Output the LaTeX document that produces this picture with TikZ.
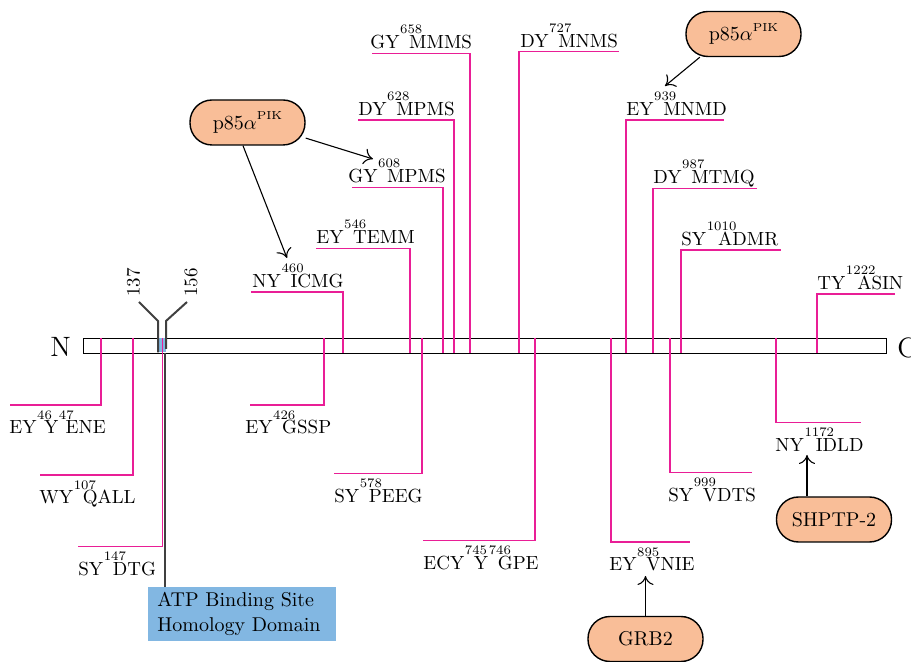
\documentclass[tikz,border=0pt]{standalone}
\usetikzlibrary{arrows.meta}
\definecolor{sitepink}{RGB}{233,30,150}
\definecolor{peach}{RGB}{249,190,152}
\definecolor{atpblue}{RGB}{130,183,226}
\definecolor{darkline}{RGB}{64,64,64}
\newcommand\supnum[1]{\setbox0\hbox{\fontsize{6.5}{7}\selectfont #1}\kern0.3pt\rlap{\raisebox{7.4pt}{\box0}}\setbox0\hbox{\fontsize{6.5}{7}\selectfont #1}\kern\dimexpr 0.3\wd0+1.2pt\relax}
\tikzset{
  lab/.style={anchor=base west, inner sep=0pt, font=\fontsize{9.5}{11}\selectfont},
  siteline/.style={draw=sitepink, line width=0.7pt},
  pill/.style={draw=black, fill=peach, line width=0.7pt, rounded corners=11pt,
    minimum width=57.5pt, minimum height=22.5pt, inner sep=0pt, font=\fontsize{10}{12}\selectfont},
  arr/.style={draw=black, line width=0.55pt, -{Computer Modern Rightarrow[length=4.5pt,width=8pt]}},
  atpline/.style={draw=darkline, line width=1pt},
}
\newcommand\upsite[6]{% name, xv, yu, xfar, xtext, text
  \coordinate (#1a) at (#2,353);
  \coordinate (#1b) at (#4,#3);
  \node[lab] (#1) at (#5,#3-4.5) {#6};
  \draw[siteline] (#1a) |- (#1b);
}
\newcommand\downsite[6]{% name, xv, yu, xfar, xtext, text
  \coordinate (#1a) at (#2,338);
  \coordinate (#1b) at (#4,#3);
  \node[lab] (#1) at (#5,#3+29) {#6};
  \draw[siteline] (#1a) |- (#1b);
}
\begin{document}
\begin{tikzpicture}[x=0.5pt,y=-0.5pt]
\useasboundingbox (0,0) rectangle (911,662);
% protein bar
\node[draw=black, fill=white, line width=0.6pt, anchor=north west, minimum width=401.5pt, minimum height=7.5pt, inner sep=0pt] (bar) at (83,338) {};
\node[anchor=base west, inner sep=0pt, font=\fontsize{14}{16}\selectfont] (nterm) at (50,356.5) {N};
\node[anchor=base west, inner sep=0pt, font=\fontsize{14}{16}\selectfont] (cterm) at (897,357.5) {C};
% ATP binding region in bar
\fill[atpblue] (158,338.5) rectangle (166,352.5);
% upper sites
\upsite{s460}{343}{292}{251}{252}{NY\supnum{460}ICMG}
\upsite{s546}{410}{248.3}{316}{316}{EY\supnum{546}TEMM}
\upsite{s608}{443}{187.3}{352}{348}{GY\supnum{608}MPMS}
\upsite{s628}{454}{120}{358}{358}{DY\supnum{628}MPMS}
\upsite{s658}{470}{53.3}{372}{370}{GY\supnum{658}MMMS}
\upsite{s727}{519}{51.7}{619}{520}{DY\supnum{727}MNMS}
\upsite{s939}{626}{120}{724}{626}{EY\supnum{939}MNMD}
\upsite{s987}{653}{188.3}{757}{653}{DY\supnum{987}MTMQ}
\upsite{s1010}{681}{250}{781}{681}{SY\supnum{1010}ADMR}
\upsite{s1222}{817}{294}{895}{817}{TY\supnum{1222}ASIN}
% lower sites
\downsite{s46}{101}{405}{10}{9}{EY\supnum{46}Y\supnum{47}ENE}
\downsite{s107}{133}{475}{40}{39}{WY\supnum{107}QALL}
\downsite{s147}{162.5}{546.7}{78}{78}{SY\supnum{147}DTG}
\downsite{s426}{324}{405}{250}{245}{EY\supnum{426}GSSP}
\downsite{s578}{422}{473.3}{334}{334}{SY\supnum{578}PEEG}
\downsite{s745}{535}{540.7}{423}{423}{ECY\supnum{745}Y\supnum{746}GPE}
\downsite{s895}{611}{542}{690}{609}{EY\supnum{895}VNIE}
\downsite{s999}{670}{472.7}{752}{668}{SY\supnum{999}VDTS}
\downsite{s1172}{776}{422.7}{861}{775}{NY\supnum{1172}IDLD}
% ATP binding site markers
\coordinate (m137a) at (139,302);
\coordinate (m137b) at (158,321);
\coordinate (m137c) at (158,352.5);
\coordinate (m156a) at (187,302);
\coordinate (m156b) at (166,321);
\coordinate (m156c) at (166,349);
\draw[atpline] (m137a) -- (m137b) -- (m137c);
\draw[atpline] (m156a) -- (m156b) -- (m156c);
\node[rotate=90, inner sep=0pt, font=\fontsize{9.5}{11}\selectfont] (l137) at (133.5,282.5) {137};
\node[rotate=90, inner sep=0pt, font=\fontsize{9.5}{11}\selectfont] (l156) at (191,282.5) {156};
\node[fill=atpblue, anchor=north west, text width=85pt, inner xsep=4.5pt, inner ysep=0pt, minimum height=27pt, align=left,
  font=\fontsize{10}{12.5}\selectfont] (atp) at (148,587) {ATP Binding Site\\Homology Domain};
\coordinate (atptop) at (164.5,353);
\draw[atpline] (atptop) -- (atptop |- atp.north);
% binding partners
\node[pill] (p1) at (247.5,122.5) {p85$\alpha$\raisebox{4.8pt}{\fontsize{5.8}{7}\selectfont PIK}};
\node[pill] (p2) at (743.5,34) {p85$\alpha$\raisebox{4.8pt}{\fontsize{5.8}{7}\selectfont PIK}};
\node[pill] (grb) at (645.5,639) {GRB2};
\node[pill] (shp) at (834,519.5) {SHPTP-2};
\coordinate (t460) at (287,258);
\coordinate (t608) at (373,159);
\coordinate (t939) at (665,86);
\coordinate (t895) at (645.5,576);
\coordinate (t1172) at (807,455);
\draw[arr] (p1.-101) -- (t460);
\draw[arr] (p1.-15) -- (t608);
\draw[arr] (p2.-152) -- (t939);
\draw[arr] (grb) -- (t895);
\draw[arr] ([xshift=-13.5pt]shp.north) -- (t1172);
\end{tikzpicture}
\end{document}
